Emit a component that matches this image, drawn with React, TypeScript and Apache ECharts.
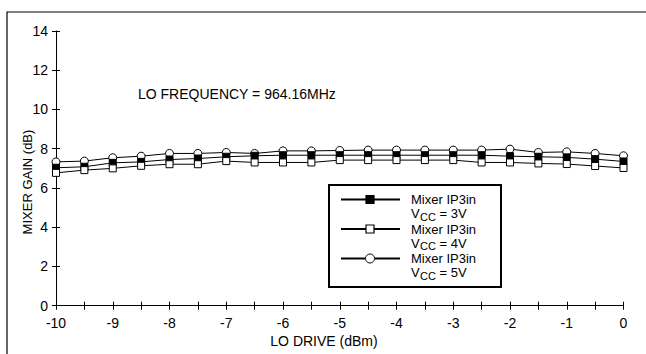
import React, { useEffect, useRef } from 'react';
import * as echarts from 'echarts';

const loDrive = [-10, -9.5, -9, -8.5, -8, -7.5, -7, -6.5, -6, -5.5, -5, -4.5, -4, -3.5, -3, -2.5, -2, -1.5, -1, -0.5, 0];
const gain3V = [7.03, 7.08, 7.28, 7.33, 7.45, 7.5, 7.59, 7.64, 7.67, 7.67, 7.67, 7.67, 7.67, 7.67, 7.67, 7.67, 7.62, 7.59, 7.56, 7.47, 7.35];
const gain4V = [6.77, 6.91, 7.0, 7.13, 7.21, 7.21, 7.37, 7.3, 7.3, 7.3, 7.42, 7.42, 7.42, 7.42, 7.42, 7.3, 7.3, 7.25, 7.22, 7.12, 7.02];
const gain5V = [7.33, 7.37, 7.54, 7.62, 7.76, 7.76, 7.81, 7.76, 7.89, 7.89, 7.91, 7.93, 7.93, 7.93, 7.93, 7.93, 7.98, 7.81, 7.84, 7.76, 7.64];

const xMin = -10;
const xMax = 0;
const yMin = 0;
const yMax = 14;

const legendEntries = [
  { title: 'Mixer IP3in', vcc: ' = 3V', symbol: 'filledSquare' },
  { title: 'Mixer IP3in', vcc: ' = 4V', symbol: 'openSquare' },
  { title: 'Mixer IP3in', vcc: ' = 5V', symbol: 'circle' },
];

const FONT = 'Arial, "Liberation Sans", Helvetica, sans-serif';

export default function App() {
  const ref = useRef<HTMLDivElement>(null);
  useEffect(() => {
    if (!ref.current) return;
    const chart = echarts.init(ref.current, undefined, { renderer: 'svg' });
    const gridPos = { left: 56, top: 31, right: 22.5, bottom: 48.3 };
    const toPairs = (arr: number[]) => loDrive.map((x, i) => [x, arr[i]]);
    const black = '#000';

    const legendGraphics: any[] = [
      {
        type: 'rect',
        shape: { x: 329, y: 185, width: 172, height: 102 },
        style: { fill: '#fff', stroke: black, lineWidth: 2 },
        z: 100,
      },
    ];
    const rowY = [199.5, 229, 258.5];
    legendEntries.forEach((e, i) => {
      const y = rowY[i];
      legendGraphics.push({
        type: 'line',
        shape: { x1: 341, y1: y, x2: 400, y2: y },
        style: { stroke: black, lineWidth: 2 },
        z: 101,
      });
      if (e.symbol === 'circle') {
        legendGraphics.push({
          type: 'circle',
          shape: { cx: 370, cy: y, r: 4.5 },
          style: { fill: '#fff', stroke: black, lineWidth: 1 },
          z: 102,
        });
      } else {
        legendGraphics.push({
          type: 'rect',
          shape: { x: 366, y: y - 4, width: 8, height: 8 },
          style: { fill: e.symbol === 'filledSquare' ? black : '#fff', stroke: black, lineWidth: 1.2 },
          z: 102,
        });
      }
      legendGraphics.push({
        type: 'text',
        x: 411,
        y: y,
        style: { text: e.title, fill: black, font: `13px ${FONT}`, textVerticalAlign: 'middle' },
        z: 103,
      });
      legendGraphics.push({
        type: 'text',
        x: 411,
        y: y + 14,
        style: { text: 'V', fill: black, font: `13px ${FONT}`, textVerticalAlign: 'middle' },
        z: 103,
      });
      legendGraphics.push({
        type: 'text',
        x: 420,
        y: y + 17,
        style: { text: 'CC', fill: black, font: `11px ${FONT}`, textVerticalAlign: 'middle' },
        z: 103,
      });
      legendGraphics.push({
        type: 'text',
        x: 436,
        y: y + 14,
        style: { text: e.vcc, fill: black, font: `13px ${FONT}`, textVerticalAlign: 'middle' },
        z: 103,
      });
    });

    const baseX = {
      type: 'value',
      min: xMin,
      max: xMax,
      interval: 0.5,
      splitLine: { show: false },
    };
    const baseY = {
      type: 'value',
      min: yMin,
      max: yMax,
      interval: 2,
      splitLine: { show: false },
    };

    const option: any = {
      animation: false,
      backgroundColor: '#fff',
      grid: [
        { ...gridPos, containLabel: false },
        { ...gridPos, containLabel: false },
      ],
      xAxis: [
        {
          ...baseX,
          gridIndex: 0,
          position: 'bottom',
          axisLine: { show: true, onZero: false, lineStyle: { color: black, width: 1 } },
          axisTick: { show: true, length: 4, lineStyle: { color: black, width: 1 } },
          axisLabel: {
            color: black,
            fontSize: 14,
            fontFamily: FONT,
            margin: 10,
            formatter: (v: number) => (Number.isInteger(v) ? String(v) : ''),
          },
        },
        {
          ...baseX,
          gridIndex: 1,
          position: 'bottom',
          axisLine: { show: false, onZero: false },
          axisTick: { show: true, inside: true, length: 4, lineStyle: { color: black, width: 1 } },
          axisLabel: { show: false },
        },
      ],
      yAxis: [
        {
          ...baseY,
          gridIndex: 0,
          position: 'left',
          axisLine: { show: true, onZero: false, lineStyle: { color: black, width: 1 } },
          axisTick: { show: true, length: 4, lineStyle: { color: black, width: 1 } },
          axisLabel: { color: black, fontSize: 14, fontFamily: FONT, margin: 8 },
        },
        {
          ...baseY,
          gridIndex: 1,
          position: 'left',
          axisLine: { show: false, onZero: false },
          axisTick: { show: true, inside: true, length: 4, lineStyle: { color: black, width: 1 } },
          axisLabel: { show: false },
        },
      ],
      series: [
        {
          name: 'Mixer IP3in VCC = 5V',
          type: 'line',
          xAxisIndex: 0,
          yAxisIndex: 0,
          data: toPairs(gain5V),
          symbol: 'circle',
          symbolSize: 8,
          lineStyle: { color: black, width: 1 },
          itemStyle: { color: '#fff', borderColor: black, borderWidth: 1 },
        },
        {
          name: 'Mixer IP3in VCC = 3V',
          type: 'line',
          xAxisIndex: 0,
          yAxisIndex: 0,
          data: toPairs(gain3V),
          symbol: 'rect',
          symbolSize: 7,
          lineStyle: { color: black, width: 1 },
          itemStyle: { color: black, borderColor: black, borderWidth: 1 },
        },
        {
          name: 'Mixer IP3in VCC = 4V',
          type: 'line',
          xAxisIndex: 0,
          yAxisIndex: 0,
          data: toPairs(gain4V),
          symbol: 'rect',
          symbolSize: 7,
          lineStyle: { color: black, width: 1 },
          itemStyle: { color: '#fff', borderColor: black, borderWidth: 1 },
        },
      ],
      graphic: [
        {
          type: 'rect',
          shape: { x: 7, y: 12, width: 700, height: 400 },
          style: { fill: 'none', stroke: black, lineWidth: 1.2 },
          silent: true,
          z: -1,
        },
        {
          type: 'text',
          x: 138,
          y: 94,
          style: { text: 'LO FREQUENCY = 964.16MHz', fill: black, font: `14px ${FONT}`, textVerticalAlign: 'middle' },
        },
        {
          type: 'text',
          x: 324,
          y: 341,
          style: { text: 'LO DRIVE (dBm)', fill: black, font: `14px ${FONT}`, textAlign: 'center', textVerticalAlign: 'middle' },
        },
        {
          type: 'text',
          x: 27,
          y: 182,
          rotation: Math.PI / 2,
          style: { text: 'MIXER GAIN (dB)', fill: black, font: `13px ${FONT}`, textAlign: 'center', textVerticalAlign: 'middle' },
        },
        ...legendGraphics,
      ],
    };
    chart.setOption(option);
    return () => chart.dispose();
  }, []);
  return <div ref={ref} style={{ position: 'fixed', left: 0, top: 0, width: 646, height: 354 }} />;
}
